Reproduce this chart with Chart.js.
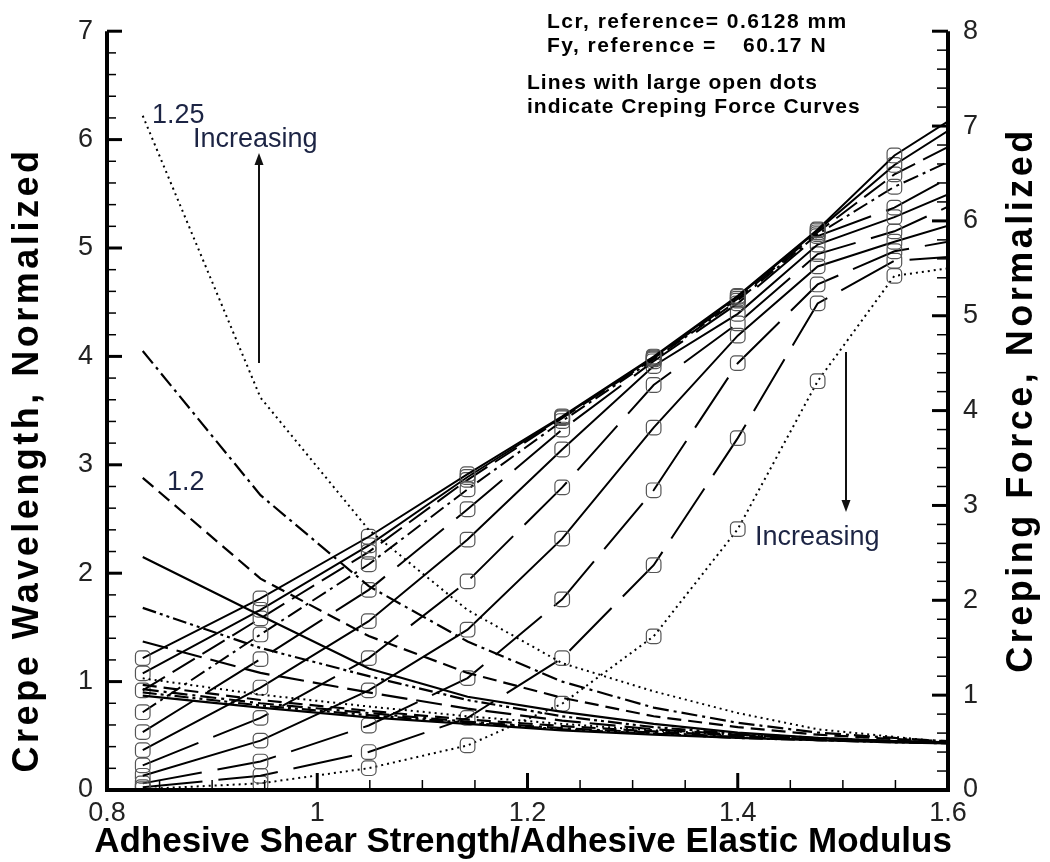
<!DOCTYPE html>
<html>
<head>
<meta charset="utf-8">
<style>
  html, body { margin: 0; padding: 0; background: #fff; }
  canvas { display: block; }
</style>
<script src="https://cdn.jsdelivr.net/npm/chart.js@4.4.0/dist/chart.umd.min.js"></script>
</head>
<body>
<canvas id="chart" width="1050" height="862"></canvas>
<script>
// Adhesive shear strength / adhesive elastic modulus at each computed case
const ratioX = [0.834, 0.946, 1.049, 1.143, 1.233, 1.32, 1.40, 1.476, 1.549, 1.6];

// Crepe wavelength, normalized (left axis), one curve per parameter value, lowest to highest
const wave01 = [0.87, 0.76, 0.67, 0.61, 0.55, 0.51, 0.48, 0.46, 0.44, 0.43];
const wave02 = [0.90, 0.78, 0.69, 0.62, 0.56, 0.52, 0.48, 0.46, 0.44, 0.43];
const wave03 = [0.93, 0.80, 0.71, 0.63, 0.57, 0.53, 0.49, 0.46, 0.45, 0.44];
const wave04 = [0.97, 0.83, 0.73, 0.65, 0.59, 0.54, 0.50, 0.47, 0.45, 0.44];
const wave05 = [1.03, 0.88, 0.77, 0.68, 0.61, 0.55, 0.51, 0.47, 0.45, 0.44];
const wave06 = [1.37, 1.08, 0.90, 0.75, 0.64, 0.56, 0.51, 0.47, 0.45, 0.44];
const wave07 = [1.68, 1.31, 1.05, 0.83, 0.68, 0.58, 0.52, 0.48, 0.45, 0.44];
const wave08 = [2.15, 1.61, 1.12, 0.86, 0.72, 0.61, 0.53, 0.48, 0.45, 0.44];
const wave09 = [2.88, 1.95, 1.42, 1.08, 0.85, 0.68, 0.58, 0.51, 0.47, 0.45];
const wave10 = [4.05, 2.72, 1.88, 1.37, 1.00, 0.76, 0.62, 0.53, 0.48, 0.45];
const wave11 = [6.22, 3.62, 2.40, 1.66, 1.17, 0.91, 0.71, 0.56, 0.49, 0.44];

// Creping force, normalized (right axis), same parameter order
const force01 = [1.39, 2.02, 2.67, 3.33, 3.94, 4.57, 5.21, 5.91, 6.69, 7.05];
const force02 = [1.23, 1.90, 2.58, 3.30, 3.93, 4.56, 5.20, 5.90, 6.59, 6.95];
const force03 = [1.05, 1.81, 2.51, 3.27, 3.92, 4.55, 5.18, 5.88, 6.49, 6.78];
const force04 = [0.82, 1.64, 2.38, 3.17, 3.89, 4.54, 5.16, 5.86, 6.36, 6.62];
const force05 = [0.61, 1.38, 2.11, 2.96, 3.80, 4.52, 5.13, 5.84, 6.14, 6.45];
const force06 = [0.42, 1.08, 1.78, 2.64, 3.59, 4.47, 5.02, 5.75, 6.04, 6.28];
const force07 = [0.26, 0.76, 1.39, 2.20, 3.19, 4.27, 4.92, 5.65, 5.89, 6.15];
const force08 = [0.15, 0.52, 1.05, 1.69, 2.65, 3.82, 4.79, 5.52, 5.78, 5.95];
const force09 = [0.07, 0.30, 0.68, 1.18, 2.01, 3.16, 4.50, 5.33, 5.68, 5.78];
const force10 = [0.03, 0.15, 0.40, 0.76, 1.39, 2.37, 3.71, 5.13, 5.58, 5.62];
const force11 = [0.01, 0.07, 0.23, 0.47, 0.91, 1.62, 2.75, 4.31, 5.42, 5.50];

// Axis tick labels
const xTickLabels = ['0.8', '1', '1.2', '1.4', '1.6'];
const leftTickLabels = ['0', '1', '2', '3', '4', '5', '6', '7'];
const rightTickLabels = ['0', '1', '2', '3', '4', '5', '6', '7', '8'];

const waveSeries = [wave01, wave02, wave03, wave04, wave05, wave06, wave07, wave08, wave09, wave10, wave11];
const forceSeries = [force01, force02, force03, force04, force05, force06, force07, force08, force09, force10, force11];

// Line patterns
const DASH = {
  solid: [],
  dashed: [14, 7],
  dashDot: [16, 5, 3, 5],
  dotted: [2, 4],
  longDash: [26, 9],
  dashDotDot: [14, 4, 3, 4, 3, 4],
  veryLong: [60, 16]
};
const wavePatterns = [DASH.solid, DASH.dashDotDot, DASH.dashDot, DASH.dashed, DASH.dotted,
  DASH.longDash, DASH.dashDotDot, DASH.solid, DASH.dashed, DASH.dashDot, DASH.dotted];
const forcePatterns = [DASH.solid, DASH.solid, DASH.longDash, DASH.dashDot, DASH.veryLong,
  DASH.solid, DASH.veryLong, DASH.solid, DASH.veryLong, DASH.veryLong, DASH.dotted];

const toPoints = vals => vals.map((v, i) => ({ x: ratioX[i], y: v }));

const datasets = [];
waveSeries.forEach((vals, i) => {
  datasets.push({
    data: toPoints(vals),
    yAxisID: 'y',
    borderColor: '#000',
    borderWidth: wavePatterns[i] === DASH.dotted ? 2 : 2.2,
    borderDash: wavePatterns[i],
    borderCapStyle: 'butt',
    pointRadius: 0,
    tension: 0,
    fill: false
  });
});
forceSeries.forEach((vals, i) => {
  datasets.push({
    data: toPoints(vals),
    yAxisID: 'y2',
    borderColor: '#000',
    borderWidth: 2,
    borderDash: forcePatterns[i],
    borderCapStyle: 'butt',
    pointStyle: 'rectRounded',
    pointRadius: ratioX.map((x, k) => (k < ratioX.length - 1 ? 8.5 : 0)),
    pointBorderColor: '#555',
    pointBorderWidth: 1.2,
    pointBackgroundColor: 'rgba(255,255,255,0)',
    tension: 0,
    fill: false
  });
});

const TICK_FONT = { family: '"Liberation Sans", Arial, sans-serif', size: 27 };

// Axis frame, inward major/minor ticks, titles and annotations
const decorations = {
  id: 'decorations',
  afterDraw(chart) {
    const { ctx, chartArea: a, scales } = chart;
    const xs = scales.x, yl = scales.y, yr = scales.y2;
    ctx.save();
    ctx.strokeStyle = '#000';
    ctx.lineCap = 'butt';

    // frame: left, bottom, right
    ctx.lineWidth = 4;
    ctx.beginPath();
    ctx.moveTo(a.left, a.top);
    ctx.lineTo(a.left, a.bottom);
    ctx.lineTo(a.right, a.bottom);
    ctx.lineTo(a.right, a.top);
    ctx.stroke();

    const tick = (x1, y1, x2, y2, w) => {
      ctx.lineWidth = w;
      ctx.beginPath();
      ctx.moveTo(x1, y1);
      ctx.lineTo(x2, y2);
      ctx.stroke();
    };

    // left axis
    for (let k = 0; k <= 35; k++) {
      const y = yl.getPixelForValue(k * 0.2);
      if (k % 5 === 0) tick(a.left, y, a.left + 15, y, 3);
      else tick(a.left, y, a.left + 9, y, 1.5);
    }
    // right axis
    for (let k = 0; k <= 40; k++) {
      const y = yr.getPixelForValue(k * 0.2);
      if (k % 5 === 0) tick(a.right - 16, y, a.right, y, 3);
      else tick(a.right - 11, y, a.right, y, 1.5);
    }
    // bottom axis
    for (let k = 0; k <= 16; k++) {
      const x = xs.getPixelForValue(0.8 + k * 0.05);
      if (k % 4 === 0) tick(x, a.bottom, x, a.bottom - 17, 3);
      else tick(x, a.bottom, x, a.bottom - 10, 1.5);
    }

    // axis titles
    ctx.fillStyle = '#000';
    ctx.textBaseline = 'alphabetic';
    ctx.textAlign = 'center';
    ctx.font = 'bold 35px "Liberation Sans", Arial, sans-serif';
    ctx.fillText('Adhesive Shear Strength/Adhesive Elastic Modulus', 523, 852);

    ctx.font = 'bold 36px "Liberation Sans", Arial, sans-serif';
    ctx.save();
    ctx.translate(38, 460);
    ctx.rotate(-Math.PI / 2);
    ctx.letterSpacing = '3.5px';
    ctx.fillText('Crepe Wavelength, Normalized', 0, 0);
    ctx.restore();

    ctx.save();
    ctx.translate(1032, 400);
    ctx.rotate(-Math.PI / 2);
    ctx.letterSpacing = '3.5px';
    ctx.fillText('Creping Force, Normalized', 0, 0);
    ctx.restore();

    // reference values and note
    ctx.textAlign = 'left';
    ctx.font = 'bold 21px "Liberation Sans", Arial, sans-serif';
    ctx.letterSpacing = '1.5px';
    ctx.fillText('Lcr, reference= 0.6128 mm', 547, 28);
    ctx.fillText('Fy, reference =', 547, 52);
    ctx.fillText('60.17 N', 743, 52);
    ctx.letterSpacing = '1px';
    ctx.fillText('Lines with large open dots', 527, 89);
    ctx.fillText('indicate Creping Force Curves', 527, 113);
    ctx.letterSpacing = '0px';

    // curve labels and trend arrows
    ctx.fillStyle = '#1c2444';
    ctx.font = '27px "Liberation Sans", Arial, sans-serif';
    ctx.fillText('1.25', 152, 123);
    ctx.fillText('Increasing', 193, 147);
    ctx.fillText('1.2', 167, 490);
    ctx.fillText('Increasing', 755, 545);

    ctx.strokeStyle = '#111';
    ctx.fillStyle = '#111';
    tick(259, 363, 259, 163, 2);
    ctx.beginPath();
    ctx.moveTo(259, 153); ctx.lineTo(254.5, 165); ctx.lineTo(263.5, 165); ctx.closePath();
    ctx.fill();
    tick(846, 352, 846, 502, 2);
    ctx.beginPath();
    ctx.moveTo(846, 512); ctx.lineTo(841.5, 500); ctx.lineTo(850.5, 500); ctx.closePath();
    ctx.fill();

    ctx.restore();
  }
};

new Chart(document.getElementById('chart'), {
  type: 'line',
  data: { datasets },
  options: {
    responsive: false,
    animation: false,
    devicePixelRatio: 1,
    layout: { padding: { top: 25, left: 0, right: 0, bottom: 0 } },
    plugins: { legend: { display: false }, tooltip: { enabled: false } },
    scales: {
      x: {
        type: 'linear',
        min: 0.8,
        max: 1.6,
        grid: { display: false, drawTicks: false },
        border: { display: false },
        ticks: {
          stepSize: 0.2,
          autoSkip: false,
          maxRotation: 0,
          padding: 7,
          color: '#222',
          font: TICK_FONT,
          callback: v => xTickLabels[Math.round((v - 0.8) / 0.2)]
        },
        afterFit: s => { s.height = 72; }
      },
      y: {
        type: 'linear',
        position: 'left',
        min: 0,
        max: 7,
        grid: { display: false, drawTicks: false },
        border: { display: false },
        ticks: {
          stepSize: 1,
          autoSkip: false,
          padding: 14,
          color: '#222',
          font: TICK_FONT,
          callback: v => leftTickLabels[Math.round(v)]
        },
        afterFit: s => { s.width = 107; }
      },
      y2: {
        type: 'linear',
        position: 'right',
        min: 0,
        max: 8,
        grid: { display: false, drawTicks: false },
        border: { display: false },
        ticks: {
          stepSize: 1,
          autoSkip: false,
          padding: 15,
          color: '#222',
          font: TICK_FONT,
          callback: v => rightTickLabels[Math.round(v)]
        },
        afterFit: s => { s.width = 102; }
      }
    }
  },
  plugins: [decorations]
});
</script>
</body>
</html>
